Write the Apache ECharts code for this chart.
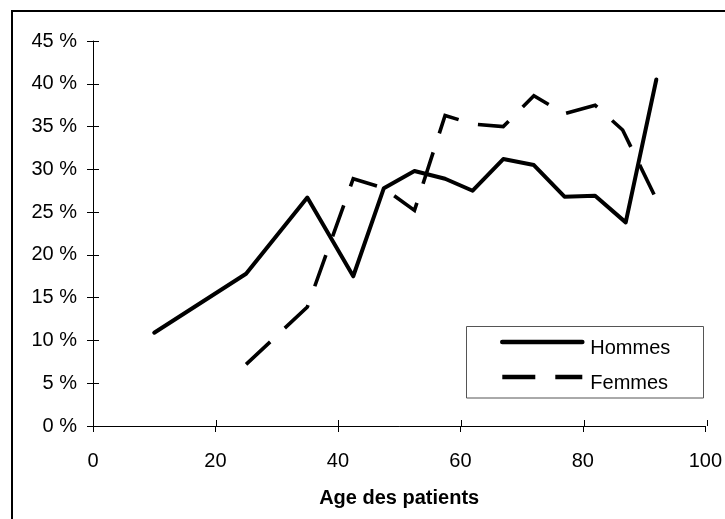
<!DOCTYPE html>
<html>
<head>
<meta charset="utf-8">
<script src="https://cdn.jsdelivr.net/npm/echarts@6/dist/echarts.min.js"></script>
<style>
html,body{margin:0;padding:0;background:#fff;}
#chart{width:725px;height:519px;}
</style>
</head>
<body>
<div id="chart"></div>
<script>
// Data
const agesHommes = [10, 25, 35, 42.5, 47.5, 52.5, 57.5, 62, 67, 72, 77, 82, 87, 92];
const hommes     = [10.9, 17.8, 26.7, 17.5, 27.8, 29.8, 28.9, 27.5, 31.2, 30.5, 26.8, 26.9, 23.8, 40.5];
const agesFemmes = [25, 35, 42.5, 47.5, 52.5, 57.5, 62, 67, 72, 77, 82, 86.5, 92];
const femmes     = [7.2, 13.9, 28.9, 27.8, 25.2, 36.3, 35.3, 35.0, 38.6, 36.5, 37.5, 34.6, 26.5];
const seriesNames = ['Hommes', 'Femmes'];
const xTitle = 'Age des patients';
const xMin = 0, xMax = 100, xStep = 20;
const yMin = 0, yMax = 45, yStep = 5;

const FONT = "'Liberation Sans', Arial, sans-serif";
const chart = echarts.init(document.getElementById('chart'), null, {renderer: 'canvas'});

const gridPos = {left: 93, right: 18, top: 41, bottom: 93};

function pairs(xs, ys) { return xs.map((x, i) => [x, ys[i]]); }

const option = {
  animation: false,
  backgroundColor: '#fff',
  grid: [
    Object.assign({}, gridPos),
    Object.assign({}, gridPos)
  ],
  xAxis: [
    {
      gridIndex: 0, type: 'value', min: xMin, max: xMax, interval: xStep,
      name: xTitle, nameLocation: 'middle', nameGap: 62,
      nameTextStyle: {fontFamily: FONT, fontSize: 20, fontWeight: 'bold', color: '#000'},
      axisLine: {show: true, onZero: false, lineStyle: {color: '#000', width: 1}},
      axisTick: {show: true, inside: false, length: 6, lineStyle: {color: '#000', width: 1}},
      axisLabel: {fontFamily: FONT, fontSize: 20, color: '#000', margin: 25},
      splitLine: {show: false}
    },
    {
      gridIndex: 1, type: 'value', min: xMin, max: xMax, interval: xStep,
      axisLine: {show: false},
      axisTick: {show: true, inside: true, length: 6, lineStyle: {color: '#000', width: 1}},
      axisLabel: {show: false},
      splitLine: {show: false}
    }
  ],
  yAxis: [
    {
      gridIndex: 0, type: 'value', min: yMin, max: yMax, interval: yStep,
      axisLine: {show: true, onZero: false, lineStyle: {color: '#000', width: 1}},
      axisTick: {show: true, inside: false, length: 6, lineStyle: {color: '#000', width: 1}},
      axisLabel: {fontFamily: FONT, fontSize: 20, color: '#000', margin: 16, formatter: '{value} %'},
      splitLine: {show: false}
    },
    {
      gridIndex: 1, type: 'value', min: yMin, max: yMax, interval: yStep,
      axisLine: {show: false},
      axisTick: {show: true, inside: true, length: 6, lineStyle: {color: '#000', width: 1}},
      axisLabel: {show: false},
      splitLine: {show: false}
    }
  ],
  legend: {
    orient: 'vertical',
    left: 500,
    top: 326,
    padding: 0,
    itemWidth: 80,
    itemHeight: 20,
    itemGap: 3,
    selectedMode: false,
    itemStyle: {color: 'rgba(0,0,0,0)', borderWidth: 0},
    lineStyle: {width: 4.6},
    formatter: '{t|{name}}',
    textStyle: {
      fontFamily: FONT, fontSize: 20, color: '#000',
      rich: {t: {fontFamily: FONT, fontSize: 20, color: '#000', lineHeight: 20, padding: [12, 0, 0, 3]}}
    },
    data: seriesNames
  },
  graphic: [
    {
      type: 'rect', silent: true, z: 100,
      shape: {x: 12, y: 11, width: 900, height: 700},
      style: {fill: 'none', stroke: '#000', lineWidth: 2}
    },
    {
      type: 'rect', silent: true, z: -1,
      shape: {x: 466.5, y: 326.5, width: 237, height: 71.5},
      style: {fill: '#fff', stroke: '#555', lineWidth: 1}
    }
  ],
  series: [
    {
      name: seriesNames[0], type: 'line', xAxisIndex: 0, yAxisIndex: 0,
      data: pairs(agesHommes, hommes),
      symbol: 'none', showSymbol: false, z: 3,
      lineStyle: {color: '#000', width: 4, cap: 'round', join: 'round'},
      itemStyle: {color: '#000'}
    },
    {
      name: seriesNames[1], type: 'line', xAxisIndex: 0, yAxisIndex: 0,
      data: pairs(agesFemmes, femmes),
      symbol: 'none', showSymbol: false, z: 2,
      lineStyle: {color: '#000', width: 3.6, type: [33, 20], cap: 'butt', join: 'miter'},
      itemStyle: {color: '#000'}
    }
  ]
};
chart.setOption(option);
</script>
</body>
</html>
